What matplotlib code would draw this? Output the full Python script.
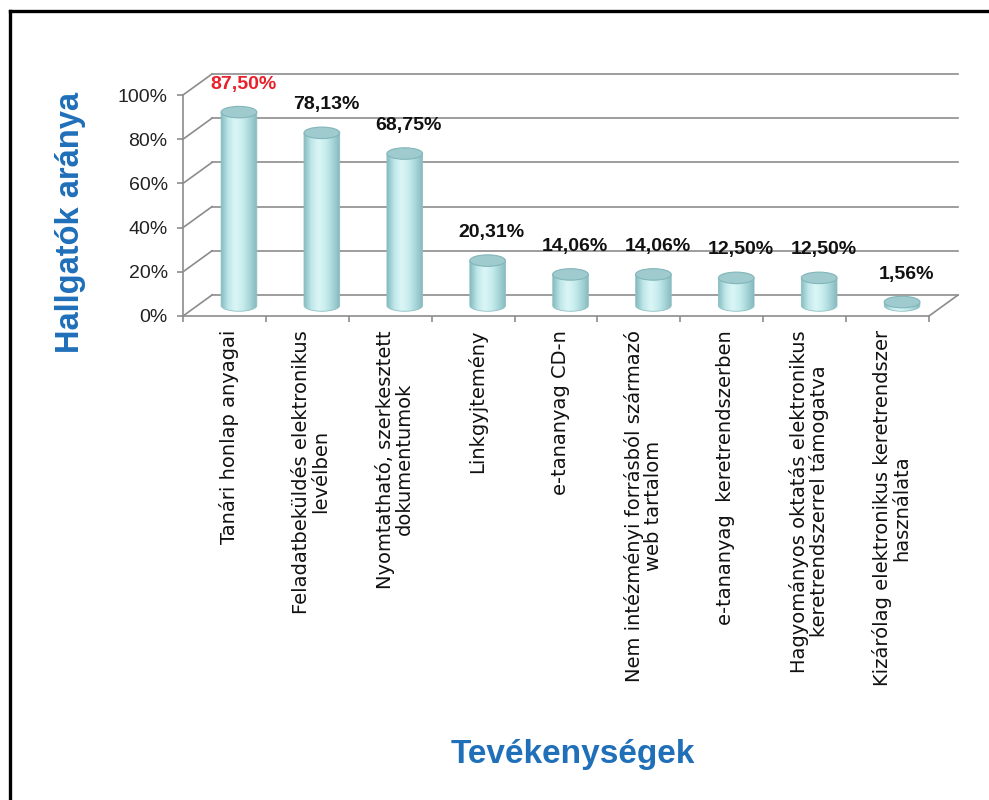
import numpy as np
import matplotlib
matplotlib.use('Agg')
import matplotlib.pyplot as plt
from matplotlib.path import Path
from matplotlib.patches import PathPatch, Ellipse
from matplotlib.colors import LinearSegmentedColormap
from matplotlib.lines import Line2D

plt.rcParams['font.family'] = ['Liberation Sans', 'DejaVu Sans']

# data
categories = [
    'Tanári honlap anyagai',
    'Feladatbeküldés elektronikus\nlevélben',
    'Nyomtatható, szerkesztett\ndokumentumok',
    'Linkgyjtemény',
    'e-tananyag CD-n',
    'Nem intézményi forrásból származó\nweb tartalom',
    'e-tananyag  keretrendszerben',
    'Hagyományos oktatás elektronikus\nkeretrendszerrel támogatva',
    'Kizárólag elektronikus keretrendszer\nhasználata',
]
values = [87.50, 78.13, 68.75, 20.31, 14.06, 14.06, 12.50, 12.50, 1.56]
value_labels = ['87,50%', '78,13%', '68,75%', '20,31%', '14,06%', '14,06%', '12,50%', '12,50%', '1,56%']
yticks = [0, 20, 40, 60, 80, 100]
ytick_labels = ['0%', '20%', '40%', '60%', '80%', '100%']

blue = '#1f6fb9'
grid_c = '#8c8c8c'

fig = plt.figure(figsize=(9.89, 8.0), dpi=100)
ax = fig.add_axes([183 / 989, 1 - 316 / 800, 746 / 989, 221 / 800])
ax.set_facecolor('none')

n = len(values)
dx, dy = 0.35, 9.5          # depth offset of the back wall (data units)
half_w, ell_h = 0.215, 5.2  # cylinder half width, ellipse height

# walls / grid
for v in yticks:
    ax.plot([dx, n + dx], [v + dy, v + dy], color=grid_c, lw=1.2, clip_on=False, zorder=1)
    ax.plot([0, dx], [v, v + dy], color=grid_c, lw=1.2, clip_on=False, zorder=1)
ax.plot([n, n + dx], [0, dy], color=grid_c, lw=1.2, clip_on=False, zorder=1)

# cylinders
cmap = LinearSegmentedColormap.from_list(
    'cyl', ['#86bcc0', '#bfe8ea', '#dcf5f6', '#c8eeef', '#a8d6d9', '#86b9bd'])
grad = np.linspace(0, 1, 64).reshape(1, -1)
t = np.linspace(0, np.pi, 40)
for i, v in enumerate(values):
    cx = i + 0.5 + dx / 2
    base = dy / 2
    top = base + v
    # body outline: rectangle plus lower half ellipse
    xs = np.concatenate([[cx - half_w, cx - half_w],
                         cx + half_w * np.cos(np.pi + t),
                         [cx + half_w]])
    ys = np.concatenate([[top, base],
                         base + ell_h / 2 * np.sin(np.pi + t),
                         [top]])
    body = PathPatch(Path(np.column_stack([xs, ys])), facecolor='none',
                     edgecolor='#8fbfc2', lw=0.6, transform=ax.transData, zorder=3)
    ax.add_patch(body)
    im = ax.imshow(grad, cmap=cmap, aspect='auto', zorder=2,
                   extent=[cx - half_w, cx + half_w, base - ell_h, top], clip_on=True)
    im.set_clip_path(body)
    ax.add_patch(Ellipse((cx, top), 2 * half_w, ell_h, facecolor='#9fcbce',
                         edgecolor='#82b5b9', lw=0.8, zorder=4))
    ax.annotate(value_labels[i], (cx, top + ell_h / 2), xytext=(3, 16),
                textcoords='offset points', ha='center', va='center',
                fontsize=14, fontweight='bold',
                color='#e8202a' if i == 0 else '#111111', zorder=5)

ax.set_xlim(0, n)
ax.set_ylim(0, 100)

# axes
for s in ['top', 'right']:
    ax.spines[s].set_visible(False)
for s in ['left', 'bottom']:
    ax.spines[s].set_color(grid_c)
    ax.spines[s].set_linewidth(1.2)
ax.set_yticks(yticks)
ax.set_yticklabels(ytick_labels, fontsize=14, color='#222222')
ax.set_xticks(range(n + 1))
ax.set_xticklabels([])
ax.tick_params(axis='both', color=grid_c, length=4, width=1.2, direction='out')
ax.tick_params(axis='y', pad=7)

# category labels
for i, lab in enumerate(categories):
    ax.annotate(lab, (i + 0.55, 0), xytext=(0, -10), textcoords='offset points',
                rotation=90, ha='center', va='top', multialignment='center',
                fontsize=14, family='DejaVu Sans', color='#111111', linespacing=1.0)

# titles
fig.text(71 / 989, 1 - 222 / 800, 'Hallgatók aránya', rotation=90, ha='center',
         va='center', fontsize=23.5, fontweight='bold', color=blue)
fig.text(573 / 989, 1 - 755 / 800, 'Tevékenységek', ha='center', va='center',
         fontsize=24, fontweight='bold', color=blue)

# frame
fig.add_artist(Line2D([10 / 989, 1], [1 - 11 / 800, 1 - 11 / 800], color='black', lw=2.4))
fig.add_artist(Line2D([10 / 989, 10 / 989], [0, 1 - 11 / 800], color='black', lw=2.4))

fig.savefig('out.png', dpi=100, facecolor='white')
